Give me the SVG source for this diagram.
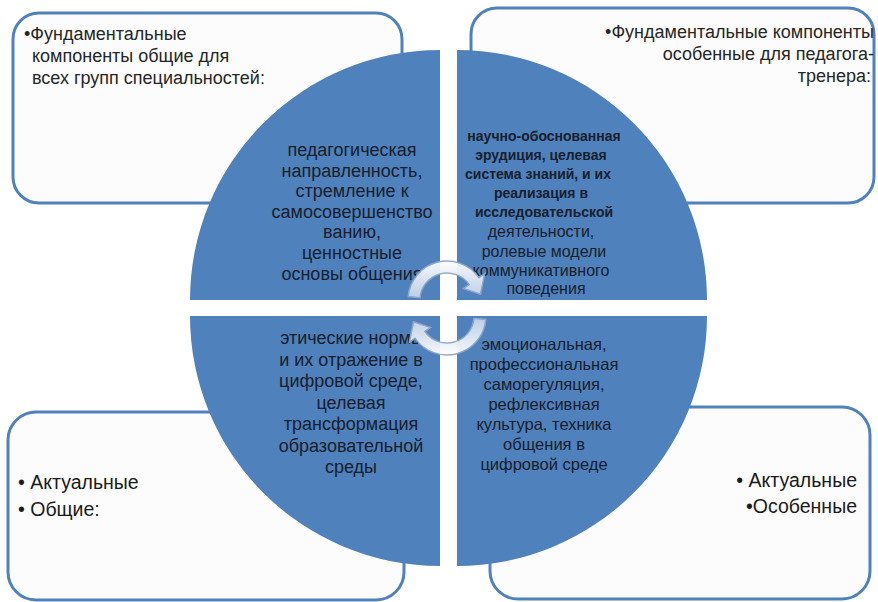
<svg xmlns="http://www.w3.org/2000/svg" width="878" height="602" viewBox="0 0 878 602">
<defs>
<linearGradient id="arrowGrad" x1="0" y1="0" x2="0" y2="1">
<stop offset="0" stop-color="#ffffff"/>
<stop offset="1" stop-color="#c3d3e9"/>
</linearGradient>
</defs>
<style>
.box{fill:#fcfcfc;stroke:#4f81bd;stroke-width:3}
.quad{fill:#4f81bd}
.bt{font-family:"Liberation Sans",Arial,sans-serif;font-size:18px;fill:#262626}
.bb{font-family:"Liberation Sans",Arial,sans-serif;font-size:19.5px;fill:#1a1a1a}
.qt{font-family:"Liberation Sans",Arial,sans-serif;fill:#17202c;text-anchor:middle}
.arrow{fill:url(#arrowGrad);stroke:#8ea8cc;stroke-width:1.5;opacity:0.95}
</style>
<rect width="878" height="602" fill="#ffffff"/>

<g id="box-top-left">
<rect class="box" x="13" y="13" width="389" height="190" rx="26"/>
<text class="bt" x="24" y="40">•Фундаментальные</text>
<text class="bt" x="32" y="62">компоненты общие для</text>
<text class="bt" x="32" y="84">всех групп специальностей:</text>
</g>

<g id="box-top-right">
<rect class="box" x="471" y="8" width="403" height="195" rx="26"/>
<text class="bt" x="874" y="38" text-anchor="end">•Фундаментальные компоненты</text>
<text class="bt" x="874" y="60" text-anchor="end">особенные для педагога-</text>
<text class="bt" x="871" y="82" text-anchor="end">тренера:</text>
</g>

<g id="box-bottom-left">
<rect class="box" x="8" y="412" width="396" height="188" rx="28"/>
<text class="bb" x="18" y="489">• Актуальные</text>
<text class="bb" x="18" y="516">• Общие:</text>
</g>

<g id="box-bottom-right">
<rect class="box" x="490" y="407" width="380" height="192" rx="28"/>
<text class="bb" x="857" y="487" text-anchor="end">• Актуальные</text>
<text class="bb" x="857" y="513" text-anchor="end">•Особенные</text>
</g>

<g id="quadrant-top-left">
<path class="quad" d="M440,300 L190,300 A250,250 0 0 1 440,50 Z"/>
<text class="qt" font-size="18" x="352" y="156">педагогическая</text>
<text class="qt" font-size="18" x="352" y="177">направленность,</text>
<text class="qt" font-size="18" x="352" y="197">стремление к</text>
<text class="qt" font-size="18" x="352" y="218">самосовершенство</text>
<text class="qt" font-size="18" x="352" y="238">ванию,</text>
<text class="qt" font-size="18" x="352" y="259">ценностные</text>
<text class="qt" font-size="18" x="352" y="280">основы общения</text>
</g>

<g id="quadrant-top-right">
<path class="quad" d="M457,300 L457,50 A250,250 0 0 1 707,300 Z"/>
<text class="qt" font-size="14" font-weight="bold" x="544" y="141">научно-обоснованная</text>
<text class="qt" font-size="14" font-weight="bold" x="541" y="160">эрудиция, целевая</text>
<text class="qt" font-size="14" font-weight="bold" x="538" y="179">система знаний, и их</text>
<text class="qt" font-size="14" font-weight="bold" x="541" y="198">реализация в</text>
<text class="qt" font-size="14" font-weight="bold" x="544" y="217">исследовательской</text>
<text class="qt" font-size="16" x="541" y="237">деятельности,</text>
<text class="qt" font-size="16" x="544" y="257">ролевые модели</text>
<text class="qt" font-size="16" x="541" y="276">коммуникативного</text>
<text class="qt" font-size="16" x="546" y="294">поведения</text>
</g>

<g id="quadrant-bottom-left">
<path class="quad" d="M440,316 L440,566 A250,250 0 0 1 190,316 Z"/>
<text class="qt" font-size="18" x="352" y="344">этические нормы</text>
<text class="qt" font-size="18" x="351" y="366">и их отражение в</text>
<text class="qt" font-size="18" x="351" y="387">цифровой среде,</text>
<text class="qt" font-size="18" x="351" y="409">целевая</text>
<text class="qt" font-size="18" x="351" y="430">трансформация</text>
<text class="qt" font-size="18" x="351" y="452">образовательной</text>
<text class="qt" font-size="18" x="351" y="473">среды</text>
</g>

<g id="quadrant-bottom-right">
<path class="quad" d="M457,316 L707,316 A250,250 0 0 1 457,566 Z"/>
<text class="qt" font-size="16.5" x="544" y="350">эмоциональная,</text>
<text class="qt" font-size="16.5" x="544" y="370">профессиональная</text>
<text class="qt" font-size="16.5" x="544" y="390">саморегуляция,</text>
<text class="qt" font-size="16.5" x="544" y="410">рефлексивная</text>
<text class="qt" font-size="16.5" x="544" y="430">культура, техника</text>
<text class="qt" font-size="16.5" x="544" y="450">общения в</text>
<text class="qt" font-size="16.5" x="544" y="470">цифровой среде</text>
</g>

<g id="connectors">
<path id="arrow-top" class="arrow" d="M408.15,296.6 A39,39 0 0 1 478.95,277.63 L484.68,273.62 L480.5,294.3 L463.38,288.53 L469.12,284.51 A27,27 0 0 0 420.1,297.65 Z"/>
<path id="arrow-bottom" class="arrow" transform="rotate(180 447 308)" d="M408.15,296.6 A39,39 0 0 1 478.95,277.63 L484.68,273.62 L480.5,294.3 L463.38,288.53 L469.12,284.51 A27,27 0 0 0 420.1,297.65 Z"/>
</g>
</svg>
